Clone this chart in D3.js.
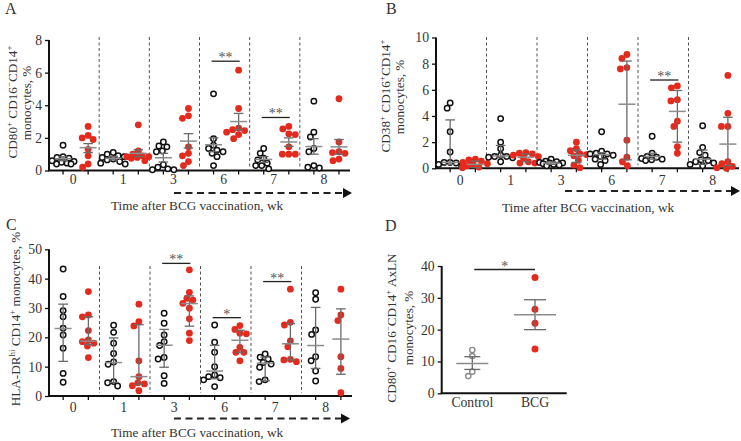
<!DOCTYPE html>
<html><head><meta charset="utf-8">
<script src="https://cdn.jsdelivr.net/npm/d3@7"></script>
<style>body{margin:0;background:#fff}svg{display:block}
svg text{font-family:"Liberation Serif","Times New Roman",Times,serif}</style>
</head><body>
<svg id="c" width="741" height="441"></svg>
<script>
// ---------- DATA ----------
const weeks = ["0","1","3","6","7","8"];

// Panel A: CD80+ CD16-CD14+ monocytes, %  (mean ± SEM)
const aCtrl = [
  [1.55,0.85,0.8,0.75,0.6,0.55,0.5,0.45,0.4,0.4],
  [1.1,1.0,0.9,0.85,0.8,0.7,0.65,0.55,0.45,0.4],
  [1.75,1.5,1.45,1.2,1.15,0.35,0.2,0.1,0.05,0.05],
  [4.7,1.95,1.55,1.35,1.25,1.15,1.05,0.85,0.3],
  [1.35,1.05,0.75,0.65,0.45,0.3,0.3,0.1],
  [4.25,2.35,2.05,1.35,1.15,0.3,0.2,0.15]
];
const aBcg = [
  [2.7,2.15,2.0,1.9,1.3,0.9,0.4,0.2],
  [2.8,1.2,1.0,0.9,0.85,0.85,0.8,0.75,0.6],
  [3.8,3.35,3.2,1.45,1.05,0.9,0.55,0.3],
  [6.15,3.8,2.6,2.5,2.45,2.35,2.2,1.95],
  [2.7,2.55,2.25,2.2,1.45,1.0,1.0,1.0],
  [4.4,1.75,1.15,1.1,1.05,0.7,0.6]
];
const aCtrlBar = [[0.72,0.6,0.84],[0.75,0.65,0.86],[0.78,0.52,1.05],[1.58,1.15,2.0],[0.68,0.5,0.85],[1.47,1.0,1.95]];
const aBcgBar  = [[1.4,1.1,1.65],[1.05,0.85,1.27],[1.8,1.38,2.26],[3.0,2.5,3.5],[1.75,1.48,2.0],[1.45,1.0,1.9]];
const aSig = [{week:"6", value:6.7, label:"**"},{week:"7", value:3.25, label:"**"}];

// Panel B: CD38+ CD16+CD14+ monocytes, %  (median, IQR)
const bCtrl = [
  [5.0,4.6,2.8,1.25,0.45,0.45,0.4,0.3,0.2],
  [3.8,2.0,1.5,1.0,0.9,0.9,0.85,0.8,0.5],
  [0.7,0.55,0.5,0.45,0.4,0.4,0.35,0.3,0.25,0.2],
  [2.8,1.3,1.15,1.1,1.1,1.0,0.9,0.7,0.6,0.3],
  [2.45,1.15,0.9,0.85,0.75,0.7,0.65,0.6],
  [3.25,1.6,1.2,1.0,0.65,0.6,0.5,0.4,0.3,0.2]
];
const bBcg = [
  [0.7,0.65,0.55,0.45,0.35,0.3,0.2,0.1,0.05],
  [1.2,1.15,1.1,1.0,0.9,0.8,0.5,0.4,0.4],
  [2.0,1.5,1.35,1.1,1.05,0.95,0.6,0.25,0.05],
  [8.7,8.4,7.7,7.6,2.15,0.85,0.5,0.2],
  [6.3,6.15,5.25,5.15,3.6,3.2,1.65,1.15],
  [7.1,4.2,3.2,3.2,0.5,0.35,0.15,0.05,0.0]
];
const bCtrlBar = [[0.45,0.3,3.7],[0.95,0.85,1.75],[0.4,0.3,0.5],[1.05,0.7,1.2],[0.9,0.7,1.15],[0.7,0.3,1.4]];
const bBcgBar  = [[0.3,0.05,0.55],[0.85,0.5,1.1],[1.0,0.45,1.4],[4.9,0.65,8.2],[4.35,2.0,5.95],[1.85,0.2,3.9]];
const bSig = [{week:"7", value:6.75, label:"**"}];

// Panel C: HLA-DRhi CD14+ monocytes, %  (median, IQR)
const cCtrl = [
  [43.3,33.9,29.1,27.0,23.1,20.8,16.3,7.7,4.7],
  [24.1,21.7,18.0,14.5,11.6,10.8,4.9,4.5,3.4],
  [28.2,24.8,20.8,18.5,17.2,13.1,12.6,6.9,4.3],
  [24.2,18.3,14.9,10.0,7.2,6.6,6.2,5.5,3.2],
  [14.3,13.2,12.6,11.4,10.9,9.8,5.5,4.9],
  [35.2,33.0,22.5,21.0,13.4,12.0,8.5,5.1]
];
const cBcg = [
  [35.6,27.6,27.0,22.3,19.1,18.5,18.0,17.0,13.1],
  [31.3,25.3,23.9,12.0,6.6,4.5,4.1,3.5,1.8],
  [43.0,35.3,33.3,32.7,31.6,29.9,26.3,21.4,18.9],
  [24.0,22.7,21.4,21.2,16.6,14.9,14.9,12.0],
  [36.4,25.1,24.2,18.8,16.8,12.5,12.3,11.7],
  [36.4,27.6,25.7,13.4,9.4,1.1]
];
const cCtrlBar = [[23.0,11.8,31.3],[11.4,4.6,19.8],[17.3,9.8,22.7],[8.5,5.9,17.3],[11.2,5.2,13.3],[17.2,9.4,30.2]];
const cBcgBar  = [[18.7,17.5,27.0],[6.6,4.0,24.3],[31.5,23.8,34.1],[19.0,14.9,22.4],[17.8,12.3,24.7],[19.4,7.4,29.7]];
const cSig = [{week:"3", value:45.2, label:"**"},{week:"6", value:26.7, label:"*"},{week:"7", value:39.0, label:"**"}];

// Panel D: AxLN monocytes
const dGroups = ["Control","BCG"];
const dCtrl = [13.6,11.7,6.8,5.4];
const dBcg  = [36.4,26.4,22.0,13.9];
const dBars = [[9.4,7.5,11.5],[24.7,20.0,29.4]];
const dSig  = {value:38.9, label:"*"};

// ---------- STYLE ----------
const svg = d3.select("#c");
const RED = "#e42a1d";
const TXT = "#333";
const BAR = "#6a6a6a";
const MEANC = "#8c8c8c";
const FS = 13.2;   // tick / title size
const LFS = 13.2;  // y-label size

function rich(textSel, str, fs){
  const re = /\^\{([^}]*)\}/g;
  let last = 0, m;
  while((m = re.exec(str))){
    if(m.index > last) textSel.append("tspan").text(str.slice(last, m.index));
    textSel.append("tspan").attr("baseline-shift","super").attr("font-size", fs*0.68).text(m[1]);
    last = re.lastIndex;
  }
  if(last < str.length) textSel.append("tspan").text(str.slice(last));
}

function swarm(values, xc, y, minD, maxOff){
  const placed = [];
  const sorted = values.map(v=>({v, py:y(v)})).sort((a,b)=>a.py-b.py);
  sorted.forEach(p=>{
    let best = null, bestScore = -1;
    for(let k=0;k<=maxOff*4;k++){
      const dx = (k%2===0?1:-1)*Math.ceil(k/2)*0.5;
      if(Math.abs(dx)>maxOff) continue;
      const dmin = placed.length ? d3.min(placed, q => Math.hypot(q.px-(xc+dx), q.py-p.py)) : 1e9;
      if(dmin >= minD){ best = dx; break; }
      if(dmin > bestScore){ bestScore = dmin; best = dx; }
    }
    p.px = xc+best; placed.push(p);
  });
  return placed;
}

function bar(g, xc, y, b, halfMean, halfCap, meanColor){
  const [m, lo, hi] = b;
  g.append("line").attr("x1",xc).attr("x2",xc).attr("y1",y(lo)).attr("y2",y(hi))
    .attr("stroke",BAR).attr("stroke-width",1.3);
  [lo,hi].forEach(v=>g.append("line").attr("x1",xc-halfCap).attr("x2",xc+halfCap)
    .attr("y1",y(v)).attr("y2",y(v)).attr("stroke",BAR).attr("stroke-width",1.3));
  g.append("line").attr("x1",xc-halfMean).attr("x2",xc+halfMean)
    .attr("y1",y(m)).attr("y2",y(m)).attr("stroke",meanColor).attr("stroke-width",1.5);
}

function sigMark(g, x1, x2, yy, label){
  g.append("line").attr("x1",x1).attr("x2",x2).attr("y1",yy).attr("y2",yy)
    .attr("stroke","#222").attr("stroke-width",1.3);
  g.append("text").attr("x",(x1+x2)/2).attr("y",yy+1).attr("text-anchor","middle")
    .attr("font-size",14).attr("fill","#555").text(label);
}

function panel(cfg){
  const g = svg.append("g");
  const x = d3.scaleBand().domain(weeks).range([cfg.x0, cfg.x1]).padding(0);
  const bw = x.bandwidth();
  const y = d3.scaleLinear().domain(cfg.domain).range([cfg.yBot, cfg.yTop]);
  const xc = w => x(w) + bw*0.28;
  const xb = w => x(w) + bw*0.78;

  weeks.slice(1).forEach(w=>{
    g.append("line").attr("x1",x(w)).attr("x2",x(w)).attr("y1",cfg.dashTop).attr("y2",cfg.yBot-3)
      .attr("stroke","#555").attr("stroke-width",1).attr("stroke-dasharray","3,2.5");
  });

  const ya = g.append("g").attr("transform",`translate(${cfg.x0},0)`)
    .call(d3.axisLeft(y).tickValues(cfg.ticks).tickSize(4).tickPadding(3).tickFormat(d3.format("d")));
  ya.select(".domain").attr("stroke","#111").attr("stroke-width",2).attr("d",`M0,${cfg.yTop}V${cfg.yBot}`);
  ya.selectAll(".tick line").attr("stroke","#111").attr("stroke-width",1.3);
  ya.selectAll(".tick text").attr("font-family",null).attr("font-size",FS+0.5).attr("fill",TXT);

  g.append("line").attr("x1",cfg.x0-1).attr("x2",cfg.x1).attr("y1",cfg.yBot).attr("y2",cfg.yBot)
    .attr("stroke","#111").attr("stroke-width",2);
  weeks.forEach(w=>{
    [xc(w), xb(w)].forEach(px=>g.append("line").attr("x1",px).attr("x2",px)
      .attr("y1",cfg.yBot).attr("y2",cfg.yBot+4).attr("stroke","#111").attr("stroke-width",1.3));
    g.append("text").attr("x",x(w)+bw*0.48).attr("y",cfg.labelY).attr("text-anchor","middle")
      .attr("font-size",FS+0.5).attr("fill",TXT).text(w);
  });

  weeks.forEach((w,i)=>{
    swarm(cfg.ctrl[i], xc(w), y, 5.8, 13).forEach(p=>g.append("circle").attr("cx",p.px).attr("cy",p.py)
      .attr("r",2.7).attr("fill","#fff").attr("stroke","#111").attr("stroke-width",1.5));
    swarm(cfg.bcg[i], xb(w), y, 6.2, 13).forEach(p=>g.append("circle").attr("cx",p.px).attr("cy",p.py)
      .attr("r",3.4).attr("fill",RED));
  });
  weeks.forEach((w,i)=>{
    bar(g, xc(w), y, cfg.ctrlBar[i], 8.5, 4.8, MEANC);
    bar(g, xb(w), y, cfg.bcgBar[i], 8.5, 4.8, MEANC);
  });

  cfg.sig.forEach(s=>sigMark(g, xc(s.week)-2, xb(s.week)+1, y(s.value), s.label));

  g.append("line").attr("x1",cfg.arrowX0).attr("x2",cfg.arrowX1-8).attr("y1",cfg.arrowY).attr("y2",cfg.arrowY)
    .attr("stroke","#222").attr("stroke-width",2).attr("stroke-dasharray","7,4.5");
  g.append("path").attr("d",`M${cfg.arrowX1-9},${cfg.arrowY-5}L${cfg.arrowX1},${cfg.arrowY}L${cfg.arrowX1-9},${cfg.arrowY+5}Z`).attr("fill","#111");

  g.append("text").attr("x",cfg.titleX).attr("y",cfg.titleY).attr("text-anchor","middle")
    .attr("font-size",FS).attr("fill",TXT).text("Time after BCG vaccination, wk");

  cfg.ylab.forEach(l=>{
    const t = g.append("text").attr("transform",`translate(${l.x},${l.y}) rotate(-90)`)
      .attr("text-anchor","middle").attr("font-size",LFS).attr("fill",TXT);
    rich(t, l.text, LFS);
  });

  g.append("text").attr("x",cfg.letter[0]).attr("y",cfg.letter[1])
    .attr("font-size",16).attr("fill",TXT).text(cfg.letter[2]);
}

panel({x0:49, x1:350, yTop:40, yBot:170.5, domain:[0,8], ticks:[0,2,4,6,8], dashTop:37,
  ctrl:aCtrl, bcg:aBcg, ctrlBar:aCtrlBar, bcgBar:aBcgBar, sig:aSig,
  labelY:184, arrowX0:174, arrowX1:352, arrowY:193, titleX:197, titleY:210,
  ylab:[{x:17,y:102,text:"CD80^{+} CD16^{−}CD14^{+}"},{x:31,y:103,text:"monocytes, %"}],
  letter:[5,14,"A"]});

panel({x0:436, x1:739, yTop:37.5, yBot:168.3, domain:[0,10], ticks:[0,2,4,6,8,10], dashTop:37,
  ctrl:bCtrl, bcg:bBcg, ctrlBar:bCtrlBar, bcgBar:bBcgBar, sig:bSig,
  labelY:185, arrowX0:565, arrowX1:740, arrowY:191, titleX:588, titleY:212,
  ylab:[{x:389.5,y:96,text:"CD38^{+} CD16^{+}CD14^{+}"},{x:404,y:97,text:"monocytes, %"}],
  letter:[386,14,"B"]});

panel({x0:49, x1:352, yTop:249.3, yBot:396, domain:[0,50], ticks:[0,10,20,30,40,50], dashTop:266,
  ctrl:cCtrl, bcg:cBcg, ctrlBar:cCtrlBar, bcgBar:cBcgBar, sig:cSig,
  labelY:411.5, arrowX0:174, arrowX1:350, arrowY:418.5, titleX:197, titleY:437,
  ylab:[{x:19.5,y:319,text:"HLA-DR^{hi} CD14^{+} monocytes, %"}],
  letter:[6,230,"C"]});

(function(){
  const g = svg.append("g");
  const x0 = 441.7, x1 = 566.7, yTop = 266, yBot = 393.3;
  const x = d3.scalePoint().domain(dGroups).range([472.3, 535]);
  const y = d3.scaleLinear().domain([0,40]).range([yBot, yTop]);
  const ya = g.append("g").attr("transform",`translate(${x0},0)`)
    .call(d3.axisLeft(y).tickValues([0,10,20,30,40]).tickSize(4).tickPadding(3));
  ya.select(".domain").attr("stroke","#111").attr("stroke-width",2).attr("d",`M0,${yTop}V${yBot}`);
  ya.selectAll(".tick line").attr("stroke","#111").attr("stroke-width",1.3);
  ya.selectAll(".tick text").attr("font-family",null).attr("font-size",FS+0.5).attr("fill",TXT);
  g.append("line").attr("x1",x0-1).attr("x2",x1).attr("y1",yBot).attr("y2",yBot).attr("stroke","#111").attr("stroke-width",2);
  dGroups.forEach(c=>g.append("text").attr("x",x(c)).attr("y",406.5).attr("text-anchor","middle")
    .attr("font-size",FS+0.5).attr("fill",TXT).text(c));
  swarm(dCtrl, x("Control"), y, 5.8, 8).forEach(p=>g.append("circle").attr("cx",p.px).attr("cy",p.py)
    .attr("r",2.6).attr("fill","#fff").attr("stroke","#8a8a8a").attr("stroke-width",1.4));
  swarm(dBcg, x("BCG"), y, 6.2, 8).forEach(p=>g.append("circle").attr("cx",p.px).attr("cy",p.py)
    .attr("r",3.5).attr("fill",RED));
  bar(g, x("Control"), y, dBars[0], 16, 8, MEANC);
  bar(g, x("BCG"), y, dBars[1], 21, 11, MEANC);
  sigMark(g, x("Control")+2, x("BCG"), y(dSig.value), dSig.label);
  [{x:396,text:"CD80^{+} CD16^{−}CD14^{+} AxLN"},{x:413,text:"monocytes, %"}].forEach(l=>{
    const t = g.append("text").attr("transform",`translate(${l.x},328) rotate(-90)`)
      .attr("text-anchor","middle").attr("font-size",LFS).attr("fill",TXT);
    rich(t, l.text, LFS);
  });
  g.append("text").attr("x",385).attr("y",231).attr("font-size",16).attr("fill",TXT).text("D");
})();
</script>
</body></html>
